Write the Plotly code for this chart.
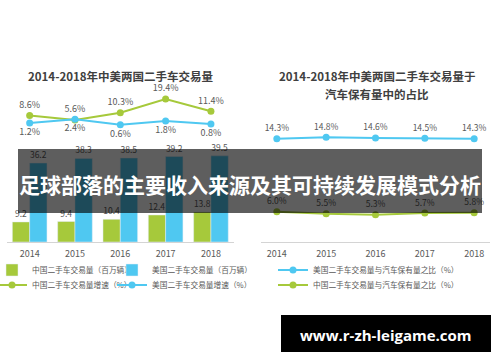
import plotly.graph_objects as go

# ---- data ----
years = ["2014", "2015", "2016", "2017", "2018"]
china_volume = [9.2, 9.4, 10.4, 12.4, 13.8]        # 百万辆
us_volume = [36.2, 38.3, 38.5, 39.2, 39.5]         # 百万辆
china_growth = [8.6, 5.6, 10.3, 19.4, 11.4]        # %
us_growth = [1.2, 2.4, 0.6, 1.8, 0.8]              # %
us_share = [14.3, 14.8, 14.6, 14.5, 14.3]          # %
china_share = [6.0, 5.5, 5.3, 5.7, 5.8]            # %

GREEN = "#a6c93b"
BLUE = "#4fc8f1"
GRAY = "#595959"
FONT = "Noto Sans CJK SC"
W, H = 500, 362


def px(p):
    return p / W


def py(p):
    return 1 - p / H


def pct(vals):
    return [f"{v:.1f}%" for v in vals]


def label_trace(x, y, text, pos, size, xa, ya):
    # invisible markers give the labels an offset from the visible points
    return go.Scatter(x=x, y=y, mode="markers+text", text=text, textposition=pos,
                      marker=dict(size=7, color="rgba(0,0,0,0)"), showlegend=False,
                      hoverinfo="skip", cliponaxis=False,
                      textfont=dict(size=size, color=GRAY), xaxis=xa, yaxis=ya)


fig = go.Figure()

# left chart: bars
fig.add_trace(go.Bar(x=years, y=china_volume, name="中国二手车交易量（百万辆）",
                     marker_color=GREEN, text=[f"{v:.1f}" for v in china_volume],
                     textposition="outside", cliponaxis=False,
                     textfont=dict(size=8.5, color=GRAY),
                     xaxis="x", yaxis="y", legend="legend"))
fig.add_trace(go.Bar(x=years, y=us_volume, name="美国二手车交易量（百万辆）",
                     marker_color=BLUE, text=[f"{v:.1f}" for v in us_volume],
                     textposition="outside", cliponaxis=False,
                     textfont=dict(size=8.5, color=GRAY),
                     xaxis="x", yaxis="y", legend="legend2"))

# left chart: growth lines
fig.add_trace(go.Scatter(x=years, y=china_growth, name="中国二手车交易量增速（%）",
                         mode="lines+markers", line=dict(color=GREEN, width=2),
                         marker=dict(size=7, color=GREEN), cliponaxis=False,
                         xaxis="x", yaxis="y2", legend="legend3"))
fig.add_trace(label_trace(years, china_growth, pct(china_growth), "top center", 9, "x", "y2"))
fig.add_trace(go.Scatter(x=years, y=us_growth, name="美国二手车交易量增速（%）",
                         mode="lines+markers", line=dict(color=BLUE, width=2),
                         marker=dict(size=7, color=BLUE), cliponaxis=False,
                         xaxis="x", yaxis="y3", legend="legend4"))
fig.add_trace(label_trace(years, us_growth, pct(us_growth), "bottom center", 9, "x", "y3"))

# right chart: share lines
fig.add_trace(go.Scatter(x=years, y=us_share, name="美国二手车交易量与汽车保有量之比（%）",
                         mode="lines+markers", line=dict(color=BLUE, width=2),
                         marker=dict(size=7, color=BLUE), cliponaxis=False,
                         xaxis="x2", yaxis="y4", legend="legend5"))
fig.add_trace(label_trace(years, us_share, pct(us_share), "top center", 8.5, "x2", "y4"))
fig.add_trace(go.Scatter(x=years, y=china_share, name="中国二手车交易量与汽车保有量之比（%）",
                         mode="lines+markers", line=dict(color=GREEN, width=2),
                         marker=dict(size=7, color=GREEN), cliponaxis=False,
                         xaxis="x2", yaxis="y5", legend="legend6"))
fig.add_trace(label_trace(years, china_share, pct(china_share), "top center", 8.5, "x2", "y5"))

ydom = [py(242), py(95)]
xaxis_common = dict(type="category", showline=True, linecolor="#d4d4d4", linewidth=1,
                    ticks="", showgrid=False, zeroline=False, ticklabelstandoff=3,
                    tickfont=dict(size=9, color=GRAY, family=FONT))
hidden = dict(visible=False, showgrid=False, zeroline=False)

legend_common = dict(orientation="v", xanchor="left", yanchor="middle",
                     bgcolor="rgba(0,0,0,0)", borderwidth=0,
                     font=dict(size=7.7, color=GRAY, family=FONT))

fig.update_layout(
    width=W, height=H,
    margin=dict(l=0, r=0, t=0, b=0, autoexpand=False),
    paper_bgcolor="white", plot_bgcolor="white",
    font=dict(family=FONT, color=GRAY),
    barmode="group", bargap=0.236, bargroupgap=0,
    showlegend=True,
    xaxis=dict(domain=[px(7), px(233.6)], anchor="y", **xaxis_common),
    yaxis=dict(domain=ydom, range=[0, 67.4], anchor="x", **hidden),
    yaxis2=dict(domain=ydom, range=[-75.2, 22.1], overlaying="y", anchor="x", **hidden),
    yaxis3=dict(domain=ydom, range=[-38.85, 10.58], overlaying="y", anchor="x", **hidden),
    xaxis2=dict(domain=[px(261), px(490)], anchor="y4", **xaxis_common),
    yaxis4=dict(domain=ydom, range=[-20.1, 28.9], anchor="x2", **hidden),
    yaxis5=dict(domain=ydom, range=[-1.54, 35.21], overlaying="y4", anchor="x2", **hidden),
    legend=dict(x=px(-8), y=py(270), **legend_common),
    legend2=dict(x=px(112), y=py(270), **legend_common),
    legend3=dict(x=px(-8), y=py(285), **legend_common),
    legend4=dict(x=px(112), y=py(285), **legend_common),
    legend5=dict(x=px(273), y=py(270), **legend_common),
    legend6=dict(x=px(273), y=py(285), **legend_common),
    shapes=[
        dict(type="rect", xref="paper", yref="paper", x0=px(18), x1=px(482),
             y0=py(213), y1=py(149), fillcolor="rgba(0,0,0,0.63)", line=dict(width=0),
             layer="above"),
        dict(type="rect", xref="paper", yref="paper", x0=px(281), x1=px(491),
             y0=py(352), y1=py(315), fillcolor="black", line=dict(width=0),
             layer="above"),
    ],
    annotations=[
        dict(text="<b>2014-2018年中美两国二手车交易量</b>", x=px(121), y=py(75.7),
             xref="paper", yref="paper", showarrow=False, xanchor="center", yanchor="middle",
             font=dict(size=11.5, color="#404040", family=FONT)),
        dict(text="<b>2014-2018年中美两国二手车交易量于</b>", x=px(377), y=py(75.7),
             xref="paper", yref="paper", showarrow=False, xanchor="center", yanchor="middle",
             font=dict(size=11.5, color="#404040", family=FONT)),
        dict(text="<b>汽车保有量中的占比</b>", x=px(376.5), y=py(94.3),
             xref="paper", yref="paper", showarrow=False, xanchor="center", yanchor="middle",
             font=dict(size=11.5, color="#404040", family=FONT)),
        dict(text="<b>足球部落的主要收入来源及其可持续发展模式分析</b>", x=px(250), y=py(184),
             xref="paper", yref="paper", showarrow=False, xanchor="center", yanchor="middle",
             font=dict(size=21, color="white", family=FONT)),
        dict(text="<b>www.r-zh-leigame.com</b>", x=px(385.5), y=py(334.5),
             xref="paper", yref="paper", showarrow=False, xanchor="center", yanchor="middle",
             font=dict(size=15, color="white", family="Open Sans")),
    ],
)

fig.write_html("out.html", config={"displayModeBar": False},
               post_script="document.body.style.margin='0';document.body.style.padding='0';")
